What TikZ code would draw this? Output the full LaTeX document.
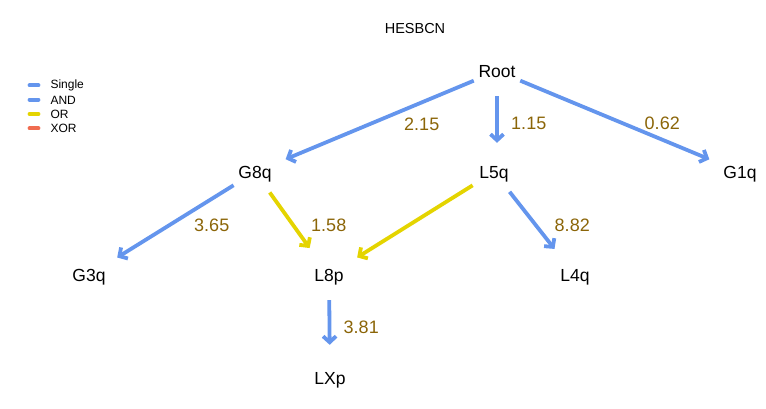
\documentclass[tikz,border=0pt]{standalone}
\usepackage{fontspec}
\setmainfont{Liberation Sans}
\usepackage{tikz}
\usetikzlibrary{arrows.meta,positioning}

\definecolor{edgeblue}{RGB}{100,149,237}
\definecolor{edgegold}{RGB}{228,212,0}
\definecolor{edgered}{RGB}{240,108,80}
\definecolor{lblbrown}{RGB}{139,101,8}

\begin{document}
\begin{tikzpicture}[x=1pt,y=-1pt,shorten >=8pt,
    >={Straight Barb[length=6pt,width=13pt]},
    every edge/.style={draw,line width=3.8pt,line join=round}]
  \tikzstyle{gene}=[circle,minimum size=50pt,inner sep=0pt,
    text height=12pt,text depth=0pt,font=\fontsize{17.5}{20}\selectfont]
  \tikzstyle{lbl}=[anchor=west,text=lblbrown,font=\fontsize{18}{21}\selectfont]
  \useasboundingbox (0,0) rectangle (766,408);

  \node (title) at (415,29) {\fontsize{14.5}{17}\selectfont HESBCN};

  % legend
  \foreach \kind/\col [count=\i] in {Single/edgeblue,AND/edgeblue,OR/edgegold,XOR/edgered} {
    \draw[\col,line width=3.8pt,line cap=round,shorten >=0pt] (29.5,71+14.3*\i) -- (38.5,71+14.3*\i);
    \node[anchor=west,font=\fontsize{12}{14}\selectfont] (leg\i) at (47,71.5+14.3*\i) {\kind};
  }

  \node[gene] (root) at (497,71) {Root};
  \node[gene] (g8q) at (255,172) {G8q};
  \node[gene] (l5q) at (494,172) {L5q};
  \node[gene] (g1q) at (740,172) {G1q};
  \node[gene] (g3q) at (89,275) {G3q};
  \node[gene] (l8p) at (329,275) {L8p};
  \node[gene] (l4q) at (575,275) {L4q};
  \node[gene] (lxp) at (330,378) {LXp};

  \path[->]
  (root) edge [edgeblue] node [lbl,xshift=23pt,yshift=-3pt] {2.15} (g8q)
         edge [edgeblue,shorten >=4pt] node [lbl,xshift=9pt,yshift=-2pt] {1.15} (root|-l5q.north)
         edge [edgeblue] node [lbl,xshift=21pt,yshift=-2pt] {0.62} (g1q)
  (g8q)  edge [edgeblue] node [lbl,xshift=17pt,yshift=-2pt] {3.65} (g3q)
         edge [edgegold] node [lbl,xshift=14pt,yshift=-2pt] {1.58} (l8p)
  (l5q)  edge [edgegold] (l8p)
         edge [edgeblue] node [lbl,xshift=15pt,yshift=-2pt] {8.82} (l4q)
  (l8p)  edge [edgeblue] node [lbl,xshift=9pt,yshift=-1pt] {3.81} (lxp);
\end{tikzpicture}
\end{document}
